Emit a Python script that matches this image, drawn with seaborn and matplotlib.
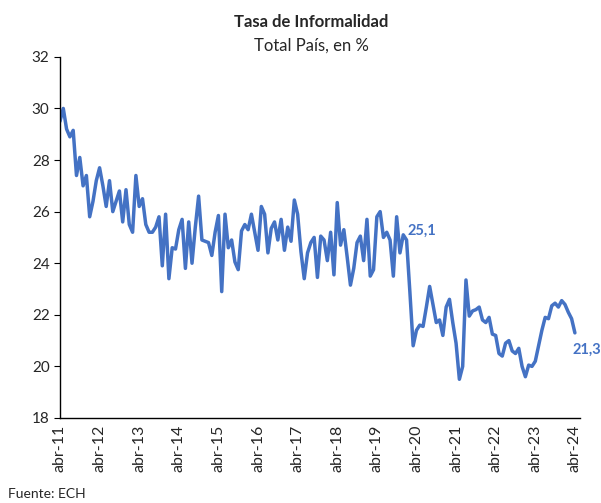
import pandas as pd
import numpy as np
import seaborn as sns
import matplotlib.pyplot as plt

# tasa de informalidad mensual, abr-11 .. abr-24
tasa = [29.5, 30.0, 29.2, 28.9, 29.15, 27.4, 28.1, 27.0, 27.4, 25.8,
        26.4, 27.2, 27.7, 27.0, 26.2, 27.2, 26.0, 26.4, 26.8, 25.6,
        26.85, 25.5, 25.2, 27.4, 26.2, 26.5, 25.5, 25.2, 25.2, 25.4,
        25.8, 23.9, 25.9, 23.4, 24.6, 24.55, 25.3, 25.7, 23.8, 25.6,
        24.0, 25.4, 26.6, 24.9, 24.85, 24.8, 24.3, 25.2, 25.85, 22.9,
        25.9, 24.6, 24.9, 24.05, 23.75, 25.25, 25.5, 25.3, 25.9, 25.2,
        24.5, 26.2, 25.9, 24.4, 25.35, 25.6, 24.9, 25.7, 24.5, 25.4,
        24.85, 26.45, 25.9, 24.45, 23.4, 24.4, 24.8, 25.0, 23.45, 25.05,
        24.9, 24.1, 25.2, 23.55, 26.35, 24.7, 25.3, 24.25, 23.15, 23.8,
        24.8, 25.05, 24.1, 25.7, 23.5, 23.75, 25.8, 26.0, 25.0, 25.2,
        24.9, 23.5, 25.8, 24.4, 25.1, 24.9, 22.9, 20.8, 21.4, 21.6,
        21.55, 22.3, 23.1, 22.4, 21.7, 21.8, 21.2, 22.3, 22.6, 21.7,
        20.9, 19.5, 20.0, 23.35, 21.95, 22.15, 22.2, 22.3, 21.8, 21.7,
        21.9, 21.25, 21.2, 20.5, 20.4, 20.9, 21.0, 20.6, 20.5, 20.7,
        20.0, 19.6, 20.05, 20.0, 20.2, 20.8, 21.4, 21.9, 21.85, 22.35,
        22.45, 22.3, 22.55, 22.4, 22.1, 21.85, 21.3]
etiquetas = ["abr-11", "abr-12", "abr-13", "abr-14", "abr-15", "abr-16", "abr-17",
             "abr-18", "abr-19", "abr-20", "abr-21", "abr-22", "abr-23", "abr-24"]

df = pd.DataFrame({"mes": range(len(tasa)), "tasa": tasa})
azul = "#4472C4"

sns.set_style("white")
plt.rcParams['font.family'] = ['Lato', 'DejaVu Sans']

fig = plt.figure(figsize=(6.01, 5.03), dpi=100)
ax = fig.add_axes([0.0998, 0.169, 0.865, 0.718])
sns.lineplot(data=df, x="mes", y="tasa", color=azul, linewidth=2.5, ax=ax)

ax.set_xlim(0, 157.5)
ax.set_ylim(18, 32)
ax.set_yticks(range(18, 33, 2))
ax.set_xticks(range(0, len(tasa), 12))
ax.set_xticklabels(etiquetas, rotation=90, fontsize=11.5)
ax.tick_params(axis='y', labelsize=11, length=4, width=0.8, color='black', left=True)
ax.tick_params(axis='x', length=0, pad=5)
ax.set_xlabel("")
ax.set_ylabel("")
sns.despine(ax=ax)
for s in ["left", "bottom"]:
    ax.spines[s].set_color("black")
    ax.spines[s].set_linewidth(1.0)

ax.annotate("25,1", (104, tasa[104]), xytext=(3, 3), textcoords="offset points",
            color=azul, fontsize=10.5, fontweight="bold", ha="left", va="center")
ax.annotate("21,3", (156, tasa[-1]), xytext=(-1.5, -12), textcoords="offset points",
            color=azul, fontsize=10.5, fontweight="bold", ha="left", va="center",
            annotation_clip=False)

fig.text(0.518, 0.956, "Tasa de Informalidad", ha="center", va="center",
         fontsize=12, fontweight="bold")
fig.text(0.518, 0.91, "Total País, en %", ha="center", va="center", fontsize=12)
fig.text(0.013, 0.018, "Fuente: ECH", ha="left", va="center", fontsize=10)

fig.savefig("out.png", dpi=100)
